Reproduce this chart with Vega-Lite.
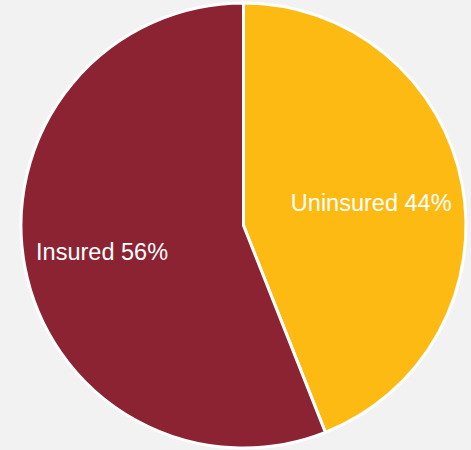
{
  "$schema": "https://vega.github.io/schema/vega-lite/v6.json",
  "width": 471,
  "height": 450,
  "autosize": {"type": "fit", "contains": "padding"},
  "padding": {"left": 16, "top": 1, "right": 0, "bottom": 0},
  "background": "#f2f2f2",
  "view": {"stroke": null},
  "data": {
    "values": [
      {"category": "Uninsured", "value": 44, "idx": 1, "label": "Uninsured 44%"},
      {"category": "Insured", "value": 56, "idx": 2, "label": "Insured 56%"}
    ]
  },
  "encoding": {
    "theta": {"field": "value", "type": "quantitative", "stack": true},
    "order": {"field": "idx", "type": "quantitative"}
  },
  "layer": [
    {
      "mark": {"type": "arc", "radius": 222.5, "stroke": "#ffffff", "strokeWidth": 3},
      "encoding": {
        "color": {
          "field": "category",
          "type": "nominal",
          "scale": {"domain": ["Uninsured", "Insured"], "range": ["#fdba13", "#8b2332"]},
          "legend": null
        }
      }
    },
    {
      "mark": {"type": "text", "radius": 130, "dy": 3, "fontSize": 23.5, "font": "Liberation Sans", "color": "#ffffff", "align": "center", "baseline": "middle"},
      "encoding": {
        "text": {"condition": {"test": "datum.category === 'Uninsured'", "field": "label"}, "value": ""}
      }
    },
    {
      "mark": {"type": "text", "radius": 144, "dy": 1, "fontSize": 23.5, "font": "Liberation Sans", "color": "#ffffff", "align": "center", "baseline": "middle"},
      "encoding": {
        "text": {"condition": {"test": "datum.category === 'Insured'", "field": "label"}, "value": ""}
      }
    }
  ]
}
